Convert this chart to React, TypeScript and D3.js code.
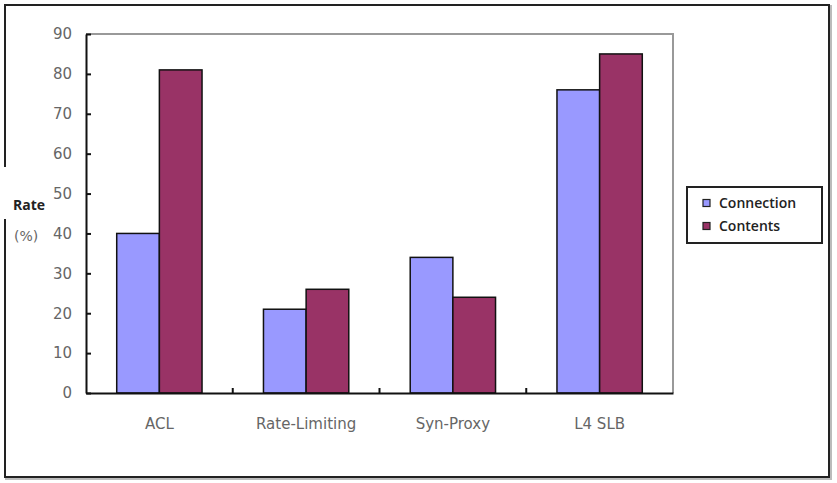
import React, { useRef, useEffect } from 'react';
import * as d3 from 'd3';

const categories = ['ACL', 'Rate-Limiting', 'Syn-Proxy', 'L4 SLB'];
const seriesNames = ['Connection', 'Contents'];
const connection = [40, 21, 34, 76];
const contents = [81, 26, 24, 85];
const yTicks = [0, 10, 20, 30, 40, 50, 60, 70, 80, 90];
const colors = ['#9999FF', '#993366'];

const W = 837;
const H = 483;

const App: React.FC = () => {
  const svgRef = useRef<SVGSVGElement>(null);

  useEffect(() => {
    if (!svgRef.current) return;
    const svg = d3.select(svgRef.current);
    svg.selectAll('*').remove();

    const plot = { left: 86, right: 673, top: 34, bottom: 393 };
    const tickFont = '"DejaVu Sans", sans-serif';

    // outer frame with soft shadow
    svg.append('rect')
      .attr('x', 6).attr('y', 6).attr('width', 825).attr('height', 473)
      .attr('fill', 'none').attr('stroke', '#bbb').attr('stroke-width', 2);
    svg.append('rect')
      .attr('x', 5).attr('y', 5).attr('width', 824).attr('height', 472)
      .attr('fill', '#fff').attr('stroke', '#222').attr('stroke-width', 2);

    const x0 = d3.scaleBand<string>()
      .domain(categories)
      .range([plot.left, plot.right])
      .paddingInner(0)
      .paddingOuter(0);
    const x1 = d3.scaleBand<string>()
      .domain(seriesNames)
      .range([0, x0.bandwidth()])
      .paddingOuter(0.72);
    const y = d3.scaleLinear().domain([0, 90]).range([plot.bottom, plot.top]);

    // plot area frame (top / right in grey)
    svg.append('path')
      .attr('d', `M${plot.left},${plot.top}H${plot.right}V${plot.bottom}`)
      .attr('fill', 'none').attr('stroke', '#999').attr('stroke-width', 2);

    // bars
    const values = [connection, contents];
    const groups = svg.append('g').selectAll('g')
      .data(categories)
      .enter().append('g')
      .attr('transform', d => `translate(${x0(d)},0)`);
    groups.selectAll('rect')
      .data((_, i) => seriesNames.map((s, k) => ({ s, v: values[k][i], k })))
      .enter().append('rect')
      .attr('x', d => x1(d.s)!)
      .attr('y', d => y(d.v))
      .attr('width', x1.bandwidth())
      .attr('height', d => plot.bottom - y(d.v))
      .attr('fill', d => colors[d.k])
      .attr('stroke', '#111')
      .attr('stroke-width', 1.5);

    // y axis
    const yAxis = svg.append('g')
      .attr('transform', `translate(${plot.left},0)`)
      .call(d3.axisLeft(y).tickValues(yTicks).tickSize(-5).tickPadding(14).tickSizeOuter(0));
    yAxis.select('.domain').attr('stroke', '#111').attr('stroke-width', 2);
    yAxis.selectAll('.tick line').attr('stroke', '#111').attr('stroke-width', 2);
    yAxis.selectAll('.tick text')
      .attr('fill', '#666').style('font-family', tickFont).style('font-size', '15px');

    // x axis
    const xAxis = svg.append('g')
      .attr('transform', `translate(0,${plot.bottom})`)
      .call(d3.axisBottom(x0).tickSize(0).tickPadding(25));
    xAxis.select('.domain').attr('stroke', '#111').attr('stroke-width', 2);
    xAxis.selectAll('.tick text')
      .attr('fill', '#666').style('font-family', tickFont).style('font-size', '15px');
    // small separators between groups
    svg.append('g').selectAll('line')
      .data(categories.slice(1))
      .enter().append('line')
      .attr('x1', d => x0(d)!).attr('x2', d => x0(d)!)
      .attr('y1', plot.bottom).attr('y2', plot.bottom - 5)
      .attr('stroke', '#111').attr('stroke-width', 2);

    // axis title with white backing over the frame
    svg.append('rect')
      .attr('x', 0).attr('y', 167).attr('width', 50).attr('height', 52).attr('fill', '#fff');
    svg.append('text')
      .attr('x', 13).attr('y', 210)
      .style('font-family', '"Open Sans", sans-serif').style('font-size', '14px')
      .style('font-weight', 'bold').attr('fill', '#222')
      .text('Rate');
    svg.append('text')
      .attr('x', 14).attr('y', 241)
      .style('font-family', tickFont).style('font-size', '14px')
      .attr('fill', '#666')
      .text('(%)');

    // legend
    const lg = svg.append('g');
    lg.append('rect')
      .attr('x', 687).attr('y', 187).attr('width', 135).attr('height', 56)
      .attr('fill', '#fff').attr('stroke', '#222').attr('stroke-width', 2);
    seriesNames.forEach((name, i) => {
      const cy = 203 + i * 23;
      lg.append('rect')
        .attr('x', 703).attr('y', cy - 3.5).attr('width', 7).attr('height', 7)
        .attr('fill', colors[i]).attr('stroke', '#222').attr('stroke-width', 1.2);
      lg.append('text')
        .attr('x', 719).attr('y', cy).attr('dy', '0.35em')
        .style('font-family', '"Open Sans", sans-serif').style('font-size', '14px')
        .style('font-weight', 600).attr('fill', '#222')
        .text(name);
    });
  }, []);

  return (
    <svg ref={svgRef} width={W} height={H}
      style={{ position: 'absolute', left: 0, top: 0, background: '#fff' }} />
  );
};

export default App;
